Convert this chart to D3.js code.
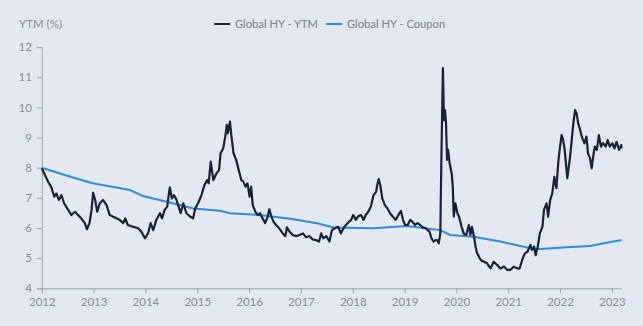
<!DOCTYPE html>
<html>
<head>
<meta charset="utf-8">
<script src="https://cdn.jsdelivr.net/npm/d3@7"></script>
<style>
  html, body { margin: 0; padding: 0; background: #e4e9f1; }
  svg { display: block; font-family: Lato, "Noto Sans", sans-serif; }
</style>
</head>
<body>
<div id="chart"></div>
<script>
// ---- Data (decimal years, % values) ----
const ytmDates = [
  2012.00,2012.06,2012.12,2012.18,2012.24,2012.28,2012.33,2012.38,2012.43,2012.51,2012.57,2012.64,2012.70,2012.76,2012.83,2012.87,2012.92,2012.96,2012.99,
  2013.03,2013.07,2013.12,2013.18,2013.25,2013.31,2013.37,2013.44,2013.50,2013.57,2013.61,2013.66,2013.76,2013.86,2013.92,2013.99,
  2014.05,2014.10,2014.15,2014.21,2014.28,2014.32,2014.37,2014.42,2014.47,2014.51,2014.55,2014.60,2014.64,2014.68,2014.73,2014.79,2014.86,2014.92,2014.96,
  2015.03,2015.08,2015.14,2015.19,2015.22,2015.26,2015.31,2015.37,2015.42,2015.45,2015.50,2015.54,2015.57,2015.59,2015.63,2015.66,2015.70,2015.75,2015.80,2015.85,2015.89,2015.93,2015.97,
  2016.01,2016.04,2016.07,2016.12,2016.17,2016.21,2016.26,2016.31,2016.36,2016.39,2016.43,2016.47,2016.52,2016.58,2016.65,2016.70,2016.73,2016.78,2016.84,2016.91,2016.97,
  2017.04,2017.10,2017.16,2017.23,2017.29,2017.35,2017.39,2017.43,2017.49,2017.55,2017.60,2017.65,2017.72,2017.77,2017.82,2017.87,2017.93,2017.97,
  2018.01,2018.06,2018.10,2018.16,2018.21,2018.25,2018.30,2018.35,2018.40,2018.45,2018.48,2018.50,2018.53,2018.57,2018.62,2018.67,2018.72,2018.77,2018.83,2018.88,2018.93,2018.97,
  2019.01,2019.06,2019.11,2019.15,2019.20,2019.25,2019.30,2019.35,2019.41,2019.48,2019.52,2019.56,2019.60,2019.63,2019.66,2019.69,2019.71,2019.74,2019.76,2019.78,2019.80,2019.82,2019.84,2019.87,2019.91,2019.93,2019.95,2019.98,
  2020.02,2020.05,2020.10,2020.14,2020.19,2020.24,2020.27,2020.30,2020.34,2020.37,2020.40,2020.47,2020.53,2020.59,2020.66,2020.72,2020.79,2020.85,2020.92,2020.98,
  2021.04,2021.11,2021.17,2021.22,2021.27,2021.32,2021.37,2021.43,2021.46,2021.50,2021.53,2021.57,2021.61,2021.66,2021.69,2021.74,2021.77,2021.81,2021.85,2021.89,2021.93,2021.97,
  2022.00,2022.03,2022.06,2022.09,2022.14,2022.19,2022.22,2022.25,2022.29,2022.32,2022.35,2022.38,2022.42,2022.47,2022.51,2022.54,2022.58,2022.61,2022.64,2022.67,2022.71,2022.75,2022.79,2022.83,2022.88,2022.92,2022.96,
  2023.01,2023.05,2023.09,2023.14,2023.18,2023.19
];
const ytmValues = [
  7.98,7.76,7.54,7.37,7.04,7.15,6.93,7.09,6.82,6.60,6.43,6.54,6.43,6.32,6.16,5.96,6.16,6.60,7.17,
  6.93,6.54,6.82,6.93,6.76,6.43,6.38,6.32,6.27,6.16,6.32,6.10,6.04,5.99,5.88,5.66,
  5.82,6.16,5.93,6.27,6.49,6.32,6.60,6.71,7.35,6.98,7.09,6.93,6.71,6.49,6.82,6.49,6.38,6.32,6.65,
  6.87,7.09,7.43,7.59,7.48,8.20,7.59,7.81,7.92,8.48,8.64,9.03,9.42,9.14,9.53,9.03,8.48,8.26,7.92,7.59,7.54,7.37,7.48,
  7.04,7.37,6.76,6.54,6.43,6.49,6.32,6.16,6.38,6.62,6.38,6.21,6.10,5.99,5.82,5.73,6.02,5.88,5.77,5.73,5.77,
  5.82,5.69,5.73,5.62,5.60,5.55,5.82,5.66,5.73,5.55,5.93,5.99,6.04,5.82,5.99,6.10,6.21,6.27,
  6.43,6.27,6.38,6.43,6.27,6.43,6.54,6.71,7.09,7.20,7.48,7.62,7.43,6.98,6.76,6.65,6.49,6.38,6.27,6.43,6.57,6.27,
  6.10,6.10,6.27,6.21,6.10,6.16,6.10,6.02,5.99,5.88,5.66,5.55,5.60,5.60,5.49,5.82,8.26,11.30,9.58,9.91,9.47,8.26,8.59,8.15,7.81,7.37,6.38,6.82,
  6.49,6.38,6.04,5.82,5.77,6.10,5.77,6.04,5.71,5.38,5.16,4.94,4.88,4.83,4.66,4.88,4.77,4.66,4.72,4.61,
  4.61,4.72,4.66,4.66,4.94,5.16,5.21,5.44,5.27,5.38,5.10,5.38,5.82,6.04,6.60,6.82,6.38,6.93,7.15,7.70,7.32,8.26,
  8.70,9.08,8.92,8.59,7.65,8.31,8.81,9.36,9.91,9.80,9.47,9.31,9.03,8.81,9.03,8.48,8.31,7.98,8.37,8.70,8.59,9.08,8.70,8.81,8.70,8.92,8.70,
  8.81,8.64,8.86,8.59,8.75,8.64
];
const couponDates = [2012.00,2012.44,2012.96,2013.70,2013.95,2014.41,2014.92,2015.44,2015.63,2016.21,2016.86,2017.31,2017.63,2018.40,2019.04,2019.69,2019.88,2020.33,2020.85,2021.43,2021.62,2022.13,2022.58,2022.90,2023.19];
const couponValues = [8.00,7.76,7.49,7.26,7.06,6.87,6.65,6.57,6.49,6.43,6.29,6.16,6.02,5.99,6.07,5.93,5.77,5.71,5.55,5.33,5.30,5.36,5.40,5.51,5.60];
const xTicks = [2012,2013,2014,2015,2016,2017,2018,2019,2020,2021,2022,2023];
const yTicks = [4,5,6,7,8,9,10,11,12];
const seriesNames = ["Global HY - YTM", "Global HY - Coupon"];
const seriesColors = ["#17223a", "#2d8ae6"];
const yLabel = "YTM (%)";

// ---- Layout ----
const W = 643, H = 326;
const svg = d3.select("#chart").append("svg").attr("width", W).attr("height", H);
svg.append("rect").attr("width", W).attr("height", H).attr("fill", "#e4e9f1");

const x = d3.scaleLinear().domain([2012, 2023.19]).range([41.8, 621.7]);
const y = d3.scaleLinear().domain([4, 12]).range([288.3, 47.1]);

const axisColor = "#9aa1aa", textColor = "#858b94";

const gx = svg.append("g").attr("transform", `translate(0,${y(4)})`)
  .call(d3.axisBottom(x).tickValues(xTicks).tickFormat(d3.format("d")).tickSizeInner(5).tickSizeOuter(0).tickPadding(5));
const gy = svg.append("g").attr("transform", `translate(${x(2012)},0)`)
  .call(d3.axisLeft(y).tickValues(yTicks).tickSizeInner(5).tickSizeOuter(5).tickPadding(5));
[gx, gy].forEach(g => {
  g.selectAll("path, line").attr("stroke", axisColor);
  g.selectAll("text").attr("fill", textColor).style("font-size", "11.5px").style("font-family", "Lato, sans-serif");
});

const line = d3.line().x(d => x(d[0])).y(d => y(d[1]));
const coupon = couponDates.map((d, i) => [d, couponValues[i]]);
const ytm = ytmDates.map((d, i) => [d, ytmValues[i]]);

svg.append("path").datum(coupon).attr("d", line).attr("fill", "none")
  .attr("stroke", seriesColors[1]).attr("stroke-width", 2);
svg.append("path").datum(ytm).attr("d", line).attr("fill", "none")
  .attr("stroke", seriesColors[0]).attr("stroke-width", 2.2).attr("stroke-linejoin", "round");

// y label
svg.append("text").attr("x", 19).attr("y", 28).text(yLabel)
  .attr("fill", textColor).style("font-size", "11.5px");

// legend
const legendX = [214, 326];
seriesNames.forEach((name, i) => {
  const g = svg.append("g").attr("transform", `translate(${legendX[i]},24)`);
  g.append("line").attr("x1", 0).attr("x2", 16).attr("y1", 0).attr("y2", 0)
    .attr("stroke", seriesColors[i]).attr("stroke-width", 2);
  g.append("text").attr("x", 21).attr("y", 4.3).text(name)
    .attr("fill", "#7a8089").style("font-size", "11.2px");
});
</script>
</body>
</html>
